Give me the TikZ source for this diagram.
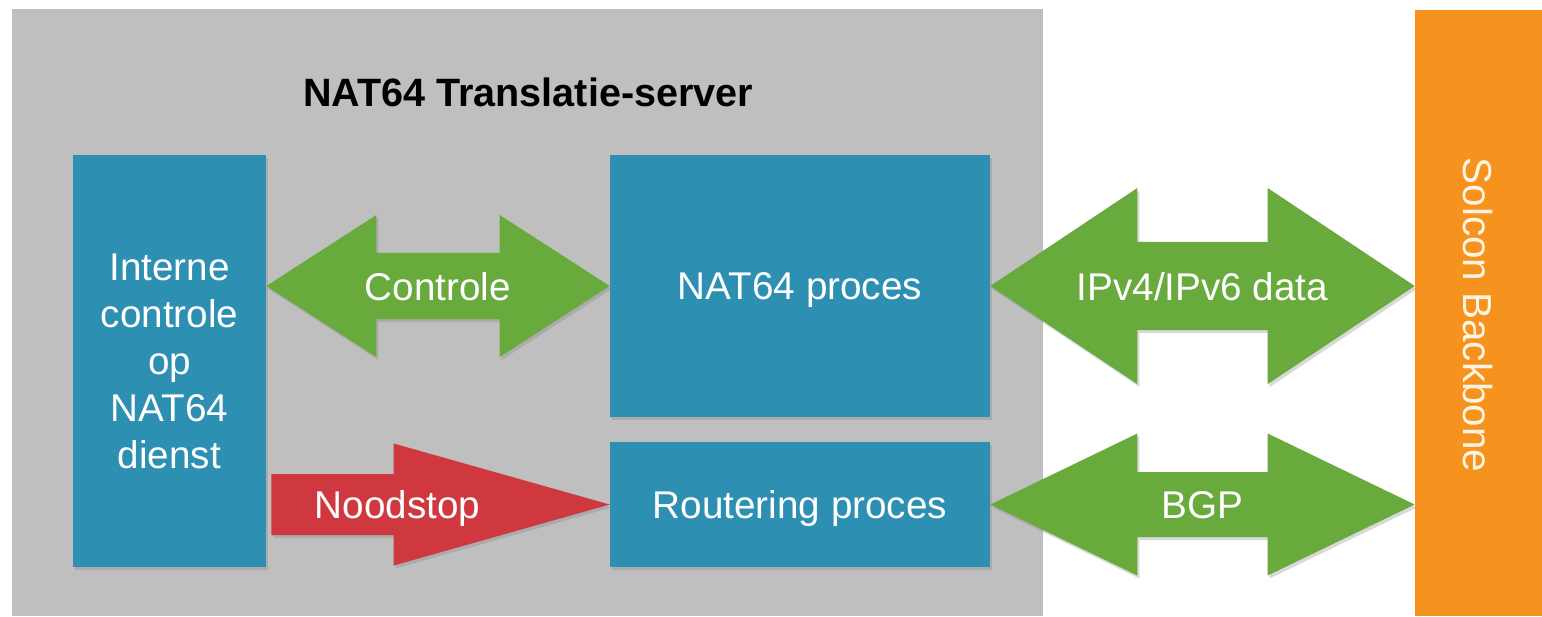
\documentclass[tikz,border=0pt]{standalone}
\usepackage{fontspec}
\setmainfont{Liberation Sans}
\usetikzlibrary{calc,shadows}

\definecolor{servergray}{RGB}{191,191,191}
\definecolor{procblue}{RGB}{45,143,178}
\definecolor{linkgreen}{RGB}{104,170,60}
\definecolor{stopred}{RGB}{208,56,64}
\definecolor{backboneorange}{RGB}{245,147,30}
\definecolor{backbonetext}{RGB}{255,244,225}

\tikzset{
  softshadow/.style={drop shadow={shadow xshift=0.04cm, shadow yshift=-0.06cm, opacity=0.3}},
  procbox/.style={fill=procblue, text=white, align=center, inner sep=0pt,
    text depth=0pt, font=\fontsize{22}{26.7}\selectfont, softshadow},
  linklabel/.style={text=white, inner sep=0pt, text depth=0pt,
    font=\fontsize{22}{26.7}\selectfont},
  linkarrow/.style={fill=linkgreen, softshadow},
  stoparrow/.style={fill=stopred, softshadow},
}

% #1 style, #2 left tip, #3 right tip, #4 head length, #5 head half width, #6 shaft half width
\newcommand{\twowayarrow}[6]{%
  \fill[#1] (#2) -- ++(#4,#5) -- ++(0,#6-#5) -- ($(#3)+(-#4,#6)$) -- ++(0,#5-#6)
    -- (#3) -- ++(-#4,-#5) -- ++(0,#5-#6) -- ($(#2)+(#4,-#6)$) -- ++(0,#6-#5) -- cycle;}
\newcommand{\onewayarrow}[6]{%
  \fill[#1] ($(#2)+(0,#6)$) -- ($(#3)+(-#4,#6)$) -- ++(0,#5-#6)
    -- (#3) -- ++(-#4,-#5) -- ++(0,#5-#6) -- ($(#2)+(0,-#6)$) -- cycle;}

\begin{document}
\begin{tikzpicture}
    \useasboundingbox [fill=white] (0, 0) rectangle (30.84, 12.32);

    % Server and backbone
    \fill [servergray] (0.24, 0) rectangle (20.86, 12.14);
    \node [font=\bfseries\fontsize{22.5}{27}\selectfont] (title) at (10.56, 10.48)
          {NAT64 Translatie-server};
    \node [fill=backboneorange, minimum width=2.54cm, minimum height=12.12cm, inner sep=0pt]
          (backbone) at (29.57, 6.06) {};
    \node [rotate=-90, text=backbonetext, font=\fontsize{23}{27}\selectfont]
          (backbonelbl) at (29.56, 6.02) {Solcon Backbone};

    % Processes
    \node [procbox, minimum width=3.86cm, minimum height=8.24cm] (intern) at (3.39, 5.1)
          {Interne\\controle\\op\\NAT64\\dienst};
    \node [procbox, minimum width=7.6cm, minimum height=5.24cm] (nat) at (16, 6.6)
          {NAT64 proces};
    \node [procbox, minimum width=7.6cm, minimum height=2.5cm] (rout) at (16, 2.23)
          {Routering proces};

    % Connections
    \coordinate (ctrlA) at (intern.east |- nat.west);
    \coordinate (dataB) at (backbone.west |- nat.east);
    \coordinate (stopA) at ($(intern.east |- rout.west)+(0.1,0)$);
    \coordinate (bgpB) at (backbone.west |- rout.east);

    \twowayarrow{linkarrow}{ctrlA}{nat.west}{2.2}{1.42}{0.66}
    \twowayarrow{linkarrow}{nat.east}{dataB}{2.94}{1.96}{0.88}
    \twowayarrow{linkarrow}{rout.east}{bgpB}{2.94}{1.42}{0.65}
    \onewayarrow{stoparrow}{stopA}{rout.west}{4.32}{1.22}{0.61}

    \node [linklabel] (ctrl) at ($(ctrlA)!0.5!(nat.west)$) {Controle};
    \node [linklabel] (data) at ($(nat.east)!0.5!(dataB)$) {IPv4/IPv6 data};
    \node [linklabel] (bgp) at ($(rout.east)!0.5!(bgpB)$) {BGP};
    \node [linklabel] (stop) at ($(stopA)!0.5!(rout.west)+(-0.86,0)$) {Noodstop};
\end{tikzpicture}
\end{document}
